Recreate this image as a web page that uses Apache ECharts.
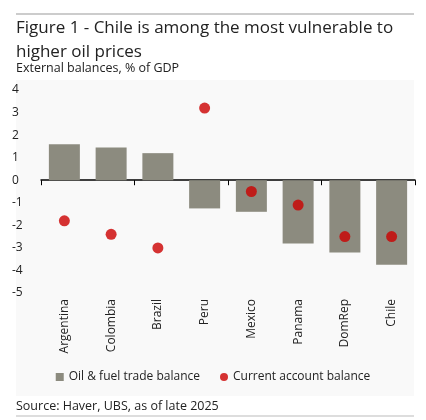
<!DOCTYPE html>
<html lang="en">
<head>
  <meta charset="utf-8" />
  <title>Chile oil vulnerability</title>
  <script src="https://cdn.jsdelivr.net/npm/echarts@6/dist/echarts.min.js"></script>
</head>
<body style="margin: 0; background: #fff">
<div id="chart" style="width: 426px; height: 420px"></div>
<script>
  const categories = ['Argentina', 'Colombia', 'Brazil', 'Peru', 'Mexico', 'Panama', 'DomRep', 'Chile'];
  const oilTrade = [1.6, 1.45, 1.2, -1.25, -1.4, -2.8, -3.2, -3.75];
  const currentAccount = [-1.8, -2.4, -3.0, 3.2, -0.5, -1.1, -2.5, -2.5];
  const font = 'Open Sans';

  const chart = echarts.init(document.getElementById('chart'));
  chart.setOption({
    animation: false,
    textStyle: { fontFamily: font },
    graphic: [
      { type: 'rect', z: -10, shape: { x: 16, y: 80, width: 398, height: 316 }, style: { fill: '#f9f9f9' } },
      { type: 'line', shape: { x1: 16, y1: 14, x2: 414, y2: 14 }, style: { stroke: '#999', lineWidth: 1 } },
      { type: 'line', shape: { x1: 16, y1: 416, x2: 414, y2: 416 }, style: { stroke: '#bbb', lineWidth: 1 } },
      { type: 'text', left: 16, top: 16, style: { text: 'Figure 1 - Chile is among the most vulnerable to\nhigher oil prices', font: '17px "Open Sans"', fill: '#222', lineHeight: 24 } },
      { type: 'text', left: 16, top: 62, style: { text: 'External balances, % of GDP', font: '12.5px "Open Sans"', fill: '#222' } },
      { type: 'text', left: 16, top: 400, style: { text: 'Source: Haver, UBS, as of late 2025', font: '12.5px "Open Sans"', fill: '#222' } }
    ],
    legend: {
      bottom: 32,
      left: 'center',
      itemWidth: 8, itemHeight: 8, itemGap: 20,
      textStyle: { fontSize: 12, color: '#222', fontFamily: font },
      data: [
        { name: 'Oil & fuel trade balance', icon: 'rect' },
        { name: 'Current account balance', icon: 'circle' }
      ]
    },
    grid: { left: 41, right: 11, top: 90, bottom: 127 },
    xAxis: [
      {
        type: 'category', data: categories,
        axisLine: { onZero: true, lineStyle: { color: '#000', width: 1.5 } },
        axisTick: { show: true, inside: false, length: 5, lineStyle: { color: '#000' } },
        axisLabel: { show: false }
      },
      {
        type: 'category', data: categories, position: 'bottom',
        axisLine: { show: false }, axisTick: { show: false },
        axisLabel: { rotate: 90, margin: 6, fontSize: 12, color: '#222', fontFamily: font }
      }
    ],
    yAxis: {
      type: 'value', min: -5, max: 4, interval: 1,
      axisLine: { show: false }, axisTick: { show: false }, splitLine: { show: false },
      axisLabel: { fontSize: 12, color: '#222', align: 'left', margin: 29, fontFamily: font }
    },
    series: [
      {
        name: 'Oil & fuel trade balance', type: 'bar', data: oilTrade,
        barWidth: 31, itemStyle: { color: '#8c8b7f' }
      },
      {
        name: 'Current account balance', type: 'scatter', data: currentAccount,
        symbolSize: 11, itemStyle: { color: '#cc0000' }
      }
    ]
  });
</script>
</body>
</html>
